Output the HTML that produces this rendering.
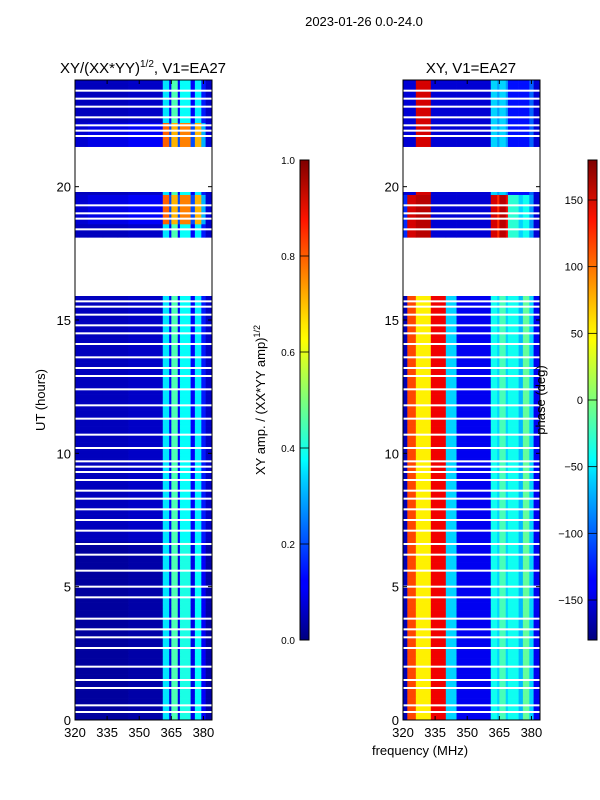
<!DOCTYPE html>
<html><head><meta charset="utf-8">
<style>
html,body{margin:0;padding:0;background:#fff;}
svg{display:block;font-family:"Liberation Sans","DejaVu Sans",sans-serif;}
</style></head>
<body>
<svg id="fig" width="600" height="800" viewBox="0 0 600 800">
<defs>
<linearGradient id="jet" x1="0" y1="1" x2="0" y2="0">
<stop offset="0" stop-color="#00007f"/><stop offset="0.11" stop-color="#0000ff"/>
<stop offset="0.125" stop-color="#0000ff"/><stop offset="0.34" stop-color="#00d5ff"/>
<stop offset="0.375" stop-color="#00ffff"/><stop offset="0.5" stop-color="#7dff7a"/>
<stop offset="0.625" stop-color="#ffff00"/><stop offset="0.66" stop-color="#ffe600"/>
<stop offset="0.875" stop-color="#ff1400"/><stop offset="1" stop-color="#7f0000"/>
</linearGradient>
</defs>
<text x="364" y="26" font-size="13" text-anchor="middle">2023-01-26 0.0-24.0</text>
<text x="143" y="73" font-size="15" text-anchor="middle">XY/(XX*YY)<tspan font-size="10" dy="-6">1/2</tspan><tspan dy="6">, V1=EA27</tspan></text>
<text x="471" y="73" font-size="15" text-anchor="middle">XY, V1=EA27</text>
<g id="left"></g>
<g id="right"></g>
<g id="axes"></g>
<text transform="translate(45,400) rotate(-90)" font-size="13" text-anchor="middle">UT (hours)</text>
<text x="420" y="755" font-size="13" text-anchor="middle">frequency (MHz)</text>
<text transform="translate(265,400) rotate(-90)" font-size="13" text-anchor="middle">XY amp. / (XX*YY amp)<tspan font-size="9" dy="-5">1/2</tspan></text>
<text transform="translate(545,400) rotate(-90)" font-size="13" text-anchor="middle">phase (deg)</text>
<rect x="300" y="160" width="9" height="480" fill="url(#jet)" stroke="#000" stroke-width="1"/>
<rect x="588" y="160" width="9" height="480" fill="url(#jet)" stroke="#000" stroke-width="1"/>
<g id="cbticks"></g>
</svg>
<script>
const NS="http://www.w3.org/2000/svg";
// ---- data ----
const freqEdges=[320,322,326,333,340,345,361,364,365,368,369,374,376,379,381,384];
const ampBase=[0.06,0.06,0.06,0.06,0.06,0.07,0.35,0.12,0.45,0.12,0.38,0.12,0.36,0.15,0.07];
const ampLow=[0.03,0.03,0.03,0.03,0.03,0.04,0.35,0.1,0.45,0.1,0.4,0.1,0.38,0.12,0.04];
const ampOrange=[0.08,0.08,0.1,0.1,0.1,0.12,0.78,0.2,0.7,0.2,0.75,0.2,0.7,0.3,0.08];
const phaseMain=[-160,110,50,140,-60,-140,-40,-60,-20,-60,-40,-70,-10,-60,-140];
const phaseUpper=[-150,-150,150,-150,-150,-150,-60,-80,-60,-80,-130,-130,-130,-100,-150];
const phaseMid=[-120,150,160,-150,-150,-150,150,120,160,140,-30,-60,-40,-80,-150];
const gapRanges=[[15.94,18.07],[19.76,21.5]];
const whiteLines=[0.3,0.55,1.2,1.5,2.0,2.7,3.1,3.4,3.8,4.6,5.0,5.6,6.2,6.6,7.1,7.5,7.9,8.3,8.6,9.0,9.3,9.5,9.7,10.2,10.7,11.3,11.8,12.4,12.9,13.2,13.6,14.1,14.5,14.8,15.2,15.5,15.7,18.4,18.8,19.0,19.3,21.9,22.1,22.3,22.6,23.0,23.3,23.6];
const orangeRanges=[[18.6,19.7],[21.5,22.4]];
const yTicks=[0,5,10,15,20];
const xTicks=[320,335,350,365,380];
const ampTicks=[0.0,0.2,0.4,0.6,0.8,1.0];
const phaseTicks=[-150,-100,-50,0,50,100,150];
// ---- scales ----
const Y0=720,Y1=80;
const yS=t=>Y0-(t/24)*(Y0-Y1);
function xS(f,left){return left+(f-320)/64*137;}
function jet(v){v=Math.max(0,Math.min(1,v));
 const r=Math.min(4*v-1.5,-4*v+4.5),g=Math.min(4*v-0.5,-4*v+3.5),b=Math.min(4*v+0.5,-4*v+2.5);
 const c=x=>Math.round(255*Math.max(0,Math.min(1,x)));return `rgb(${c(r)},${c(g)},${c(b)})`;}
const inR=(t,R)=>R.some(r=>t>=r[0]&&t<r[1]);
function draw(gid,left,valFn){
 const g=document.getElementById(gid);
 const dt=0.1;
 for(let i=0;i<240;i++){const t=i*dt+dt/2;
  if(inR(t,gapRanges))continue;
  const vals=valFn(t);
  for(let k=0;k<vals.length;k++){
   const r=document.createElementNS(NS,'rect');
   
   
   const x0=xS(freqEdges[k],left),x1=xS(freqEdges[k+1],left);
   r.setAttribute('x',x0.toFixed(2));r.setAttribute('width',(x1-x0+0.3).toFixed(2));
   r.setAttribute('y',yS(t+dt/2).toFixed(2));r.setAttribute('height',(yS(0)-yS(dt)+0.3).toFixed(2));
   r.setAttribute('fill',jet(vals[k]));g.appendChild(r);}
 }
 whiteLines.forEach(t=>{const r=document.createElementNS(NS,'rect');
  
  
  r.setAttribute('x',left);r.setAttribute('width',137);r.setAttribute('y',(yS(t)-1).toFixed(2));r.setAttribute('height',2);r.setAttribute('fill','#fff');g.appendChild(r);});
}
draw('left',75,t=>inR(t,orangeRanges)?ampOrange:(t<6.7?ampLow:ampBase));
draw('right',403,t=>{const p=t>19.7?phaseUpper:(t>18.07?phaseMid:phaseMain);return p.map(v=>(v+180)/360);});
// ---- axes ----
const ax=document.getElementById('axes');
function el(tag,attrs,txt){const e=document.createElementNS(NS,tag);for(const k in attrs)e.setAttribute(k,attrs[k]);if(txt!==undefined)e.textContent=txt;return e;}
[75,403].forEach((L,pi)=>{
 ax.appendChild(el('rect',{x:L,y:80,width:137,height:640,fill:'none',stroke:'#000','stroke-width':1,}));
 yTicks.forEach(v=>{const y=yS(v);
  ax.appendChild(el('line',{x1:L,x2:L+4,y1:y,y2:y,stroke:'#000'}));
  ax.appendChild(el('line',{x1:L+137,x2:L+133,y1:y,y2:y,stroke:'#000'}));
  ax.appendChild(el('text',{x:L-4,y:y+5,'font-size':13,'text-anchor':'end',},String(v)));});
 xTicks.forEach(v=>{const x=xS(v,L);
  ax.appendChild(el('line',{x1:x,x2:x,y1:720,y2:716,stroke:'#000'}));
  ax.appendChild(el('line',{x1:x,x2:x,y1:80,y2:84,stroke:'#000'}));
  ax.appendChild(el('text',{x:x,y:737,'font-size':13,'text-anchor':'middle',},String(v)));});
});
const cb=document.getElementById('cbticks');
ampTicks.forEach(v=>{const y=640-v*480;
 cb.appendChild(el('line',{x1:300,x2:309,y1:y,y2:y,stroke:'#000','stroke-width':0.8}));
 cb.appendChild(el('text',{x:295,y:y+4,'font-size':10,'text-anchor':'end',},v.toFixed(1)));});
phaseTicks.forEach(v=>{const y=640-(v+180)/360*480;
 cb.appendChild(el('line',{x1:588,x2:597,y1:y,y2:y,stroke:'#000','stroke-width':0.8}));
 cb.appendChild(el('text',{x:583,y:y+4,'font-size':11,'text-anchor':'end',},v<0?'\u2212'+(-v):String(v)));});
</script>
</body></html>
